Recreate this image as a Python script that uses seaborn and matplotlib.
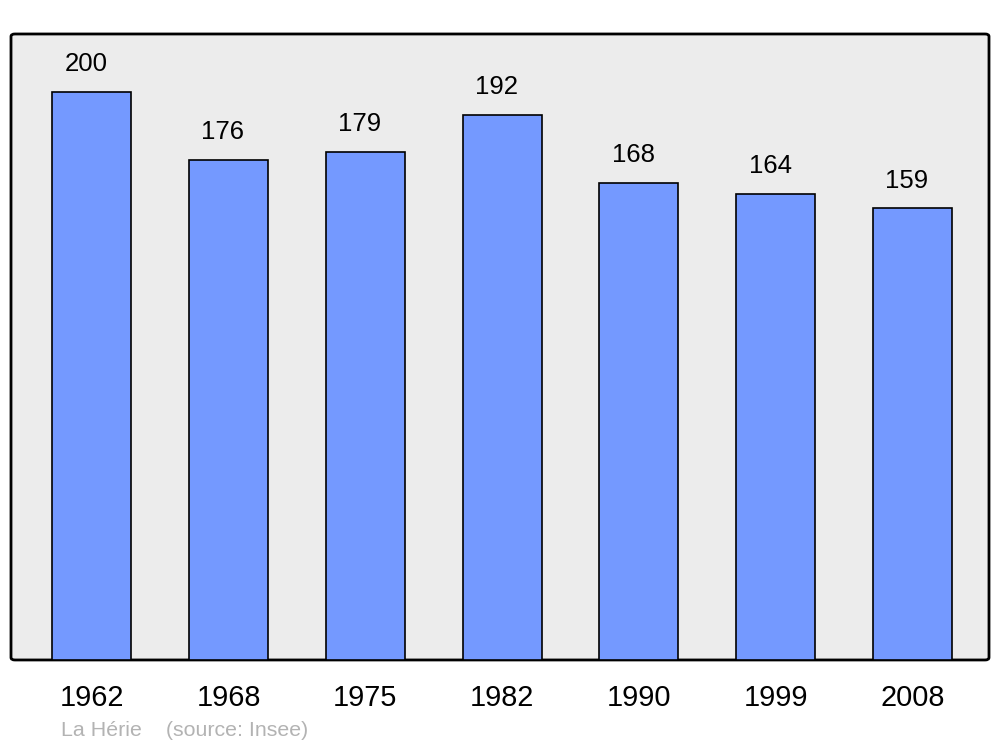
import matplotlib
matplotlib.use("Agg")
import matplotlib.pyplot as plt
import seaborn as sns
import pandas as pd
from matplotlib.patches import FancyBboxPatch

# population data
years = ["1962", "1968", "1975", "1982", "1990", "1999", "2008"]
population = [200, 176, 179, 192, 168, 164, 159]
data = pd.DataFrame({"year": years, "pop": population})

sns.set_style("white")
plt.rcParams["font.family"] = ["Liberation Sans", "DejaVu Sans"]
plt.rcParams["text.color"] = "black"
plt.rcParams["xtick.color"] = "black"

fig = plt.figure(figsize=(10, 7.47), dpi=100)
ax = fig.add_axes([0.011, 0.1165, 0.978, 0.838])

sns.barplot(data=data, x="year", y="pop", color="#7499ff", width=0.578,
            edgecolor="black", linewidth=1.2, saturation=1, ax=ax)

# rounded frame behind the bars
ax.patch.set_visible(False)
for s in ax.spines.values():
    s.set_visible(False)
frame = FancyBboxPatch((0, 0), 1, 1, boxstyle="round,pad=0,rounding_size=0.004",
                       transform=ax.transAxes, facecolor="#ececec",
                       edgecolor="black", linewidth=2, zorder=0, clip_on=False)
ax.add_patch(frame)

for i, v in enumerate(population):
    ax.annotate(str(v), (i, v), xytext=(-4, 20), textcoords="offset points",
                ha="center", va="center", fontsize=18.5, color="black")

ax.set_xlim(-0.59, 6.56)
ax.set_ylim(0, 220.4)
ax.set_yticks([])
ax.set_xlabel("")
ax.set_ylabel("")
ax.tick_params(axis="x", length=0, pad=17, labelsize=20.8, labelcolor="black")

fig.text(0.061, 0.0215, "La Hérie    (source: Insee)", color="#b3b3b3",
         fontsize=15.4, ha="left", va="center")

plt.savefig("out.png", dpi=100)
